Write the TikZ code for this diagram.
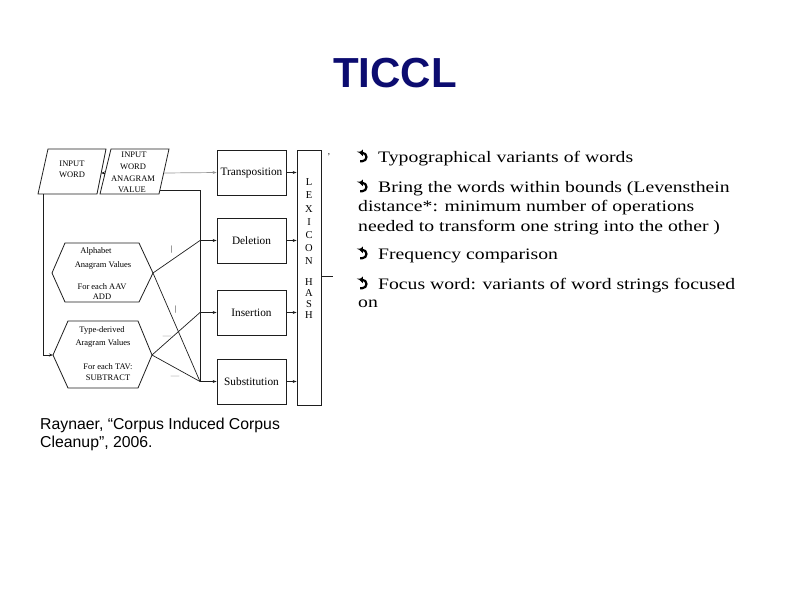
\documentclass[tikz,border=0pt]{standalone}
\usepackage{fontspec}
\setmainfont{Liberation Serif}
\newfontfamily\titlefont{Liberation Sans}
\newfontfamily\citefont{Liberation Sans}
\newfontfamily\bodyfont[FakeStretch=1.23]{Liberation Serif}
\usetikzlibrary{arrows.meta}
\definecolor{navy}{RGB}{12,12,112}
\definecolor{diag}{RGB}{30,30,30}
\definecolor{lightln}{RGB}{150,150,150}
\begin{document}
\begin{tikzpicture}[x=1pt,y=-1pt,
  ln/.style={draw=diag,line width=0.7pt},
  arr/.style={ln,-{Stealth[length=4pt,width=3pt]}},
  opbox/.style={draw=diag,line width=0.8pt,minimum width=69pt,minimum height=45pt,inner sep=0pt,font=\fontsize{11.3}{12}\selectfont},
  small/.style={inner sep=0pt,font=\fontsize{8.5}{9}\selectfont},
  lexletter/.style={inner sep=0pt,font=\fontsize{10.5}{11}\selectfont},
  body/.style={inner sep=0pt,anchor=base west,font=\bodyfont\fontsize{16}{18}\selectfont},
  cite/.style={inner sep=0pt,anchor=base west,font=\citefont\fontsize{15.8}{18}\selectfont},
  bullet/.style={line width=2.2pt,-{Triangle[length=3.6pt,width=6.5pt]}}]
\useasboundingbox (0,0) rectangle (794,595);
\fill[white] (0,0) rectangle (794,595);

% title
\node[inner sep=0pt,anchor=base,text=navy,font=\titlefont\bfseries\fontsize{42}{44}\selectfont] (title) at (395,87) {TICCL};

% parallelograms
\coordinate (p1a) at (48,149); \coordinate (p1b) at (106,149);
\coordinate (p1c) at (97,194); \coordinate (p1d) at (38,194);
\draw[ln,line width=0.8pt] (p1a) -- (p1b) -- (p1c) -- (p1d) -- cycle;
\node[small] (iw1) at (72,164) {INPUT};
\node[small] (iw2) at (72,175) {WORD};
\coordinate (p2a) at (111,149); \coordinate (p2b) at (169,149);
\coordinate (p2c) at (159,194); \coordinate (p2d) at (100,194);
\draw[ln,line width=0.8pt] (p2a) -- (p2b) -- (p2c) -- (p2d) -- cycle;
\node[small] (wa1) at (134,155) {INPUT};
\node[small] (wa2) at (133,167) {WORD};
\node[small] (wa3) at (133,179) {ANAGRAM};
\node[small] (wa4) at (132,190) {VALUE};

% operation boxes
\node[opbox] (trans) at (251.5,172.5) {Transposition};
\node[opbox] (del) at (251.5,240.5) {Deletion};
\node[opbox] (ins) at (251.5,312.5) {Insertion};
\node[opbox] (sub) at (251.5,381.5) {Substitution};

% lexicon hash
\node[draw=diag,line width=0.8pt,minimum width=24pt,minimum height=255pt,inner sep=0pt] (lex) at (309,277.5) {};
\foreach \l/\yy in {L/182,E/195,X/209,I/222,C/235,O/248,N/261,H/282,A/293,S/304,H/315}
  \node[lexletter] (lx\yy) at (309,\yy) {\l};
\coordinate (lexout) at (333,276);
\draw[ln] (lex.east |- lexout) -- (lexout);
\node[inner sep=0pt,font=\fontsize{9}{9}\selectfont] (tick) at (329,155) {,};

% hexagons
\coordinate (h1l) at (52,273); \coordinate (h1tl) at (65,243); \coordinate (h1tr) at (139,243);
\coordinate (h1r) at (153,273); \coordinate (h1br) at (139,302); \coordinate (h1bl) at (65,302);
\draw[ln,line width=0.8pt] (h1l) -- (h1tl) -- (h1tr) -- (h1r) -- (h1br) -- (h1bl) -- cycle;
\node[small] (a1) at (96,251) {Alphabet};
\node[small] (a2) at (103,265) {Anagram Values};
\node[small] (a3) at (102,287) {For each AAV};
\node[small] (a4) at (102,297) {ADD};
\coordinate (h2l) at (53,355); \coordinate (h2tl) at (68,321); \coordinate (h2tr) at (138,321);
\coordinate (h2r) at (152,355); \coordinate (h2br) at (138,388); \coordinate (h2bl) at (68,388);
\draw[ln,line width=0.8pt] (h2l) -- (h2tl) -- (h2tr) -- (h2r) -- (h2br) -- (h2bl) -- cycle;
\node[small] (t1) at (102,330) {Type-derived};
\node[small] (t2) at (103,343) {Aragram Values};
\node[small] (t3) at (108,367) {For each TAV:};
\node[small] (t4) at (108,378) {SUBTRACT};

% connectors
\draw[arr] (105,173) -- (101,173);
\draw[ln,draw=lightln,-{Stealth[length=4pt,width=3pt]}] (164,173) -- (trans.west);
\coordinate (busTop) at (200,190);
\coordinate (bDel) at (200,240.5);
\coordinate (bIns) at (200,312.5);
\coordinate (bSub) at (200,381.5);
\draw[ln] (160,190) -- (busTop) -- (bSub);
\draw[arr] (bDel) -- (del.west);
\draw[arr] (bIns) -- (ins.west);
\draw[arr] (bSub) -- (sub.west);
\coordinate (iwdown) at (43,355);
\draw[ln] (43,194) -- (iwdown);
\draw[arr] (iwdown) -- (h2l);
\draw[ln] (h1r) -- (bDel);
\draw[ln] (h1r) -- (bSub);
\draw[ln] (h2r) -- (bIns);
\draw[ln] (h2r) -- (bSub);
\foreach \n/\yy in {trans/172.5,del/240.5,ins/312.5,sub/381.5}
  \draw[arr] (\n.east) -- (lex.west |- 0,\yy);
\node[small,font=\fontsize{8}{8}\selectfont] (m1) at (172,250) {|};
\node[small,font=\fontsize{8}{8}\selectfont] (m2) at (176,310) {|};
\node[small,text=lightln] (m3) at (167,337) {---};
\node[small,text=lightln] (m4) at (175,377) {---};

% bullets
\foreach \yy in {162,192,259,289}{
  \draw[bullet] (360,\yy-0.8) -- (362.3,\yy-0.8) arc[start angle=-90,end angle=90,radius=4.2pt] -- (359.3,\yy-9.2);
}
\node[body] (l1) at (378,162) {Typographical variants of words};
\node[body] (l2) at (378,192) {Bring the words within bounds (Levensthein};
\node[body] (l3) at (358,211) {distance*: minimum number of operations};
\node[body] (l4) at (358,231) {needed to transform one string into the other )};
\node[body] (l5) at (378,259) {Frequency comparison};
\node[body] (l6) at (378,289) {Focus word: variants of word strings focused};
\node[body] (l7) at (358,307) {on};

% citation
\node[cite] (c1) at (40,429) {Raynaer, “Corpus Induced Corpus};
\node[cite] (c2) at (40,447) {Cleanup”, 2006.};
\end{tikzpicture}
\end{document}
